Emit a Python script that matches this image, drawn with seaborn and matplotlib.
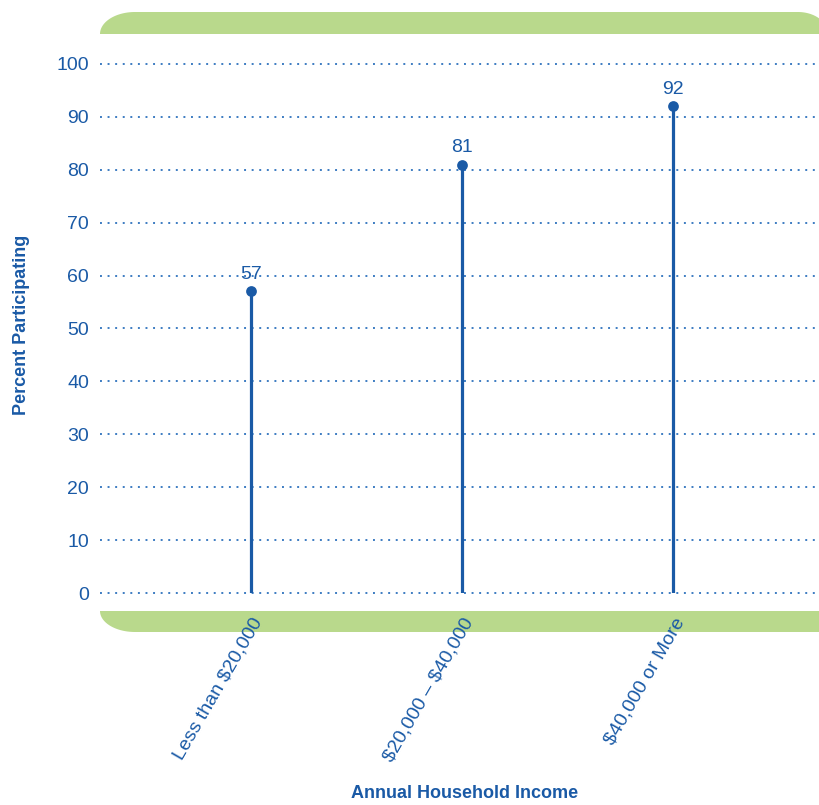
import numpy as np
import pandas as pd
import matplotlib
matplotlib.use("Agg")
import matplotlib.pyplot as plt
import seaborn as sns
from matplotlib.patches import Polygon

categories = ["Less than $20,000", "$20,000 – $40,000", "$40,000 or More"]
values = [57, 81, 92]
yticks = [0, 10, 20, 30, 40, 50, 60, 70, 80, 90, 100]
xlabel = "Annual Household Income"
ylabel = "Percent Participating"

BLUE = "#1a5aa6"
GRID = "#3d7cc2"
GREEN = "#b9d98c"

sns.set_theme(style="white")
plt.rcParams["font.family"] = ["Liberation Sans", "DejaVu Sans"]
plt.rcParams["text.parse_math"] = False

W, H = 819, 805
fig = plt.figure(figsize=(W / 100, H / 100), dpi=100)
ax = fig.add_axes([100 / W, 1 - 593 / H, 719 / W, (593 - 64) / H])
ax.set_facecolor("none")

df = pd.DataFrame({"cat": categories, "val": values, "x": np.arange(len(categories))})

ax.vlines(df["x"], 0, df["val"], color=BLUE, lw=2.3, zorder=3)
sns.scatterplot(data=df, x="x", y="val", ax=ax, color=BLUE, s=60,
                edgecolor=BLUE, linewidth=0, zorder=4, legend=False)
for xi, v in zip(df["x"], df["val"]):
    ax.annotate(f"{v}", (xi, v), xytext=(0, 6), textcoords="offset points",
                ha="center", va="bottom", color=BLUE, fontsize=14)

for t in yticks:
    ax.axhline(t, color=GRID, lw=1.4, linestyle=(0, (1, 2.9)), zorder=1, clip_on=False)

ax.set_xlim(-0.716, 2.692)
ax.set_ylim(0, 100)
ax.set_yticks(yticks)
ax.set_yticklabels([str(t) for t in yticks], color=BLUE, fontsize=14)
ax.set_xticks(df["x"])
ax.set_xticklabels(categories, color=BLUE, fontsize=14, rotation=60,
                   ha="right", rotation_mode="anchor")
ax.tick_params(axis="y", length=0, pad=8)
ax.tick_params(axis="x", length=0, pad=16)
for s in ax.spines.values():
    s.set_visible(False)
ax.set_xlabel("")
ax.set_ylabel("")

fig.text(465 / W, 1 - 793 / H, xlabel, ha="center", va="center",
         color=BLUE, fontsize=13, fontweight="bold")
fig.text(22 / W, 1 - 325 / H, ylabel, ha="center", va="center", rotation=90,
         color=BLUE, fontsize=13, fontweight="bold")

# decorative green bands
th = np.linspace(0, np.pi / 2, 30)
tl_x = 100 + 35 * (1 - np.cos(th))
tl_y = 34 - 22 * np.sin(th)
tr_x = 798 + 30 * np.sin(th)
tr_y = 12 + 22 * (1 - np.cos(th))
top = np.column_stack([np.concatenate([tl_x, tr_x, [830, 100]]),
                       np.concatenate([tl_y, tr_y, [34, 34]])])
bl_x = 100 + 35 * (1 - np.cos(th))
bl_y = 611 + 21 * np.sin(th)
bot = np.column_stack([np.concatenate([[100], bl_x, [830, 830]]),
                       np.concatenate([[611], bl_y, [632, 611]])])
for pts in (top, bot):
    fx = pts[:, 0] / W
    fy = 1 - pts[:, 1] / H
    fig.patches.append(Polygon(np.column_stack([fx, fy]), closed=True,
                               facecolor=GREEN, edgecolor="none",
                               transform=fig.transFigure, zorder=-1))

fig.savefig("out.png", dpi=100)
